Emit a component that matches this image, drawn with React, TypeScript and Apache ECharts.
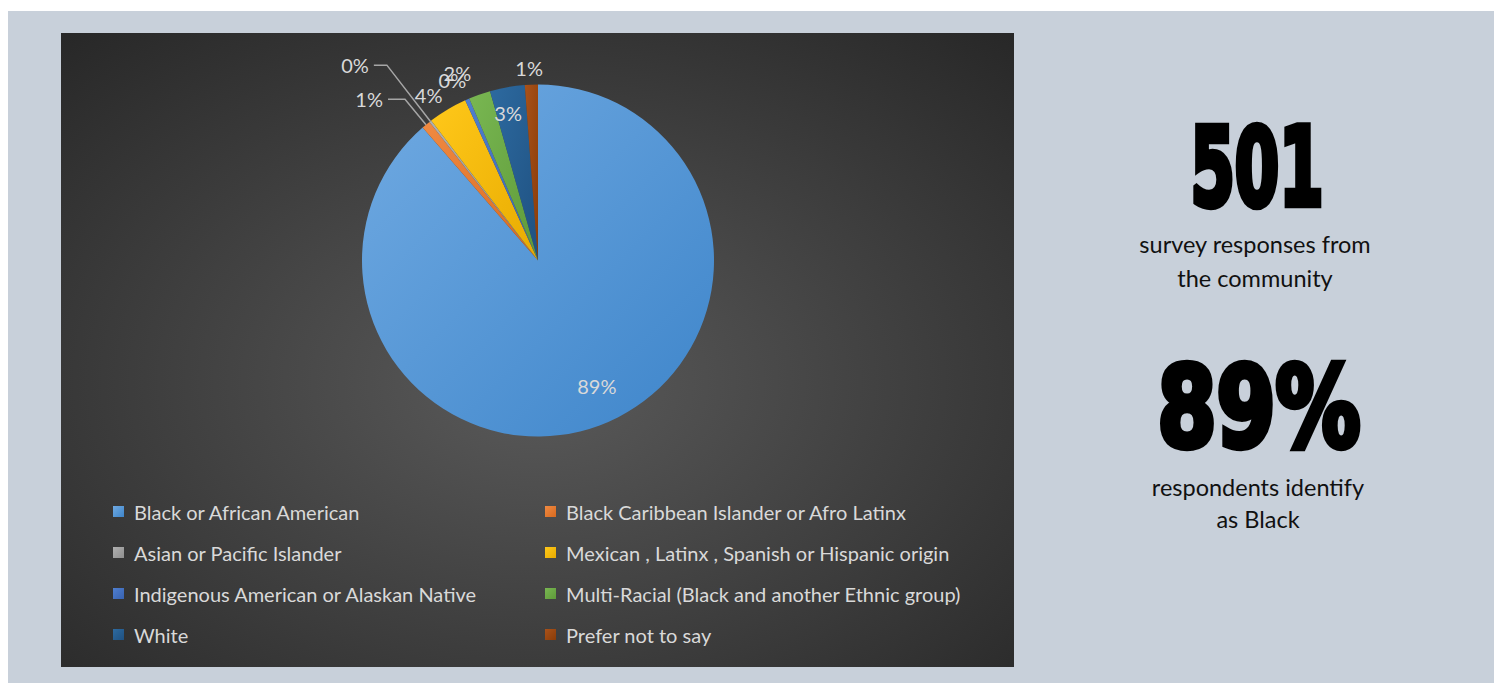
import React, { useEffect, useRef } from "react";
import * as echarts from "echarts";

// ---- data ----
const categories = [
  "Black or African American",
  "Black Caribbean Islander or Afro Latinx",
  "Asian or Pacific Islander",
  "Mexican , Latinx , Spanish or Hispanic origin",
  "Indigenous American or Alaskan Native",
  "Multi-Racial (Black and another Ethnic group)",
  "White",
  "Prefer not to say",
];
const counts = [444, 4, 1, 18, 2, 10, 16, 6];
const statTotal = "501";
const statShare = "89%";
const statTotalCaption = ["survey responses from", "the community"];
const statShareCaption = ["respondents identify", "as Black"];

// ---- styles ----
const sliceColors = ["#5b9bd5", "#ed7d31", "#a5a5a5", "#ffc000", "#4472c4", "#70ad47", "#255e91", "#9e480e"];
const sliceGradients: [string, string][] = [
  ["#70aae2", "#3e85ca"],
  ["#f08a42", "#d8691f"],
  ["#b0b0b0", "#8f8f8f"],
  ["#ffc81a", "#e8ab00"],
  ["#4f7fd0", "#3862b0"],
  ["#79b752", "#5e9a39"],
  ["#2d6aa0", "#1f5181"],
  ["#a9521a", "#8a3c08"],
];
// label placement per slice: inside or outside, leader-line lengths, small nudges
const labelInside = [true, false, false, false, false, false, true, false];
const labelLineShow = [false, true, true, false, false, false, false, false];
const labelLen1 = [0, 33, 71, 10, 10, 10, 0, 10];
const labelLen2 = [0, 17, 13, 0, 0, 0, 0, 0];
const labelNudge: [number, number][] = [
  [27, 40],
  [0, 0],
  [0, 0],
  [5, -6],
  [8, -10],
  [0, -12],
  [-14, -58],
  [17, -7],
];

const LABEL_FONT = "Lato, 'Open Sans', sans-serif";
const CAPTION_FONT = "23.5px Lato, 'Open Sans', sans-serif";
const BIG_FONT = "'Liberation Sans Narrow', 'DejaVu Sans Condensed', sans-serif";

export default function App() {
  const ref = useRef<HTMLDivElement>(null);
  useEffect(() => {
    if (!ref.current) return;
    const chart = echarts.init(ref.current, undefined, { renderer: "svg" });
    const total = counts.reduce((a, b) => a + b, 0);
    const data = categories.map((name, i) => ({
      name,
      value: counts[i],
      itemStyle: {
        color: new echarts.graphic.LinearGradient(0, 0, 1, 1, [
          { offset: 0, color: sliceGradients[i][0] },
          { offset: 1, color: sliceGradients[i][1] },
        ]),
      },
      label: {
        position: labelInside[i] ? "inside" : "outside",
      },
      labelLine: {
        show: labelLineShow[i],
        length: labelLen1[i],
        length2: labelLen2[i],
      },
    }));

    chart.setOption({
      animation: false,
      backgroundColor: "#c8d0da",
      color: sliceColors,
      graphic: [
        {
          type: "rect",
          z: 0,
          shape: { x: 53, y: 22, width: 953, height: 634 },
          style: {
            fill: new echarts.graphic.RadialGradient(0.5, 0.55, 0.75, [
              { offset: 0, color: "#5a5a5a" },
              { offset: 1, color: "#272727" },
            ]),
          },
        },
        {
          type: "text",
          x: 1249,
          y: 157,
          scaleX: 0.6,
          scaleY: 0.92,
          style: {
            text: statTotal,
            fill: "#000",
            stroke: "#000",
            lineWidth: 7,
            font: "bold 118px " + BIG_FONT,
            textAlign: "center",
            textVerticalAlign: "middle",
          },
        },
        ...statTotalCaption.map((t, i) => ({
          type: "text",
          x: 1247,
          y: 233 + i * 34,
          style: {
            text: t,
            fill: "#111",
            font: CAPTION_FONT,
            textAlign: "center",
            textVerticalAlign: "middle",
          },
        })),
        {
          type: "text",
          x: 1251,
          y: 396,
          scaleX: 0.76,
          scaleY: 0.91,
          style: {
            text: statShare,
            fill: "#000",
            stroke: "#000",
            lineWidth: 7,
            font: "bold 124px " + BIG_FONT,
            textAlign: "center",
            textVerticalAlign: "middle",
          },
        },
        ...statShareCaption.map((t, i) => ({
          type: "text",
          x: 1250,
          y: 476 + i * 32,
          style: {
            text: t,
            fill: "#111",
            font: CAPTION_FONT,
            textAlign: "center",
            textVerticalAlign: "middle",
          },
        })),
      ],
      legend: {
        orient: "horizontal",
        left: 100,
        top: 485,
        width: 880,
        itemWidth: 11,
        itemHeight: 11,
        itemGap: 20,
        icon: "rect",
        data: categories,
        textStyle: {
          color: "#d9d9d9",
          fontSize: 20,
          fontFamily: LABEL_FONT,
          width: 391,
          lineHeight: 21,
          padding: [0, 0, 0, 5],
        },
      },
      series: [
        {
          type: "pie",
          center: [530, 249.5],
          radius: 176,
          startAngle: 90,
          clockwise: true,
          avoidLabelOverlap: false,
          z: 5,
          data,
          label: {
            show: true,
            color: "#d9d9d9",
            fontSize: 20,
            fontFamily: LABEL_FONT,
            formatter: (p: any) => Math.round((p.value / total) * 100) + "%",
          },
          labelLine: {
            lineStyle: { color: "#a6a6a6", width: 1.5 },
            smooth: false,
          },
          labelLayout: (p: any) => {
            const n = labelNudge[p.dataIndex];
            return { dx: n[0], dy: n[1] };
          },
          emphasis: { disabled: true },
        },
      ],
    });
    return () => chart.dispose();
  }, []);

  return (
    <div
      ref={ref}
      style={{ position: "absolute", left: 8, top: 11, width: 1486, height: 672 }}
    />
  );
}
